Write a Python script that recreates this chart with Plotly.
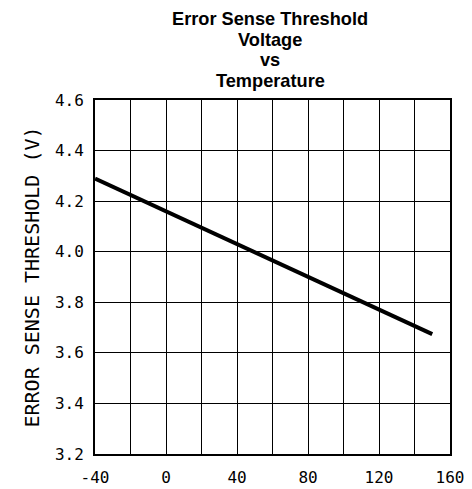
import plotly.graph_objects as go

temperature = [-40, 0, 50, 100, 150]
threshold_v = [4.289, 4.160, 3.998, 3.836, 3.674]

x_ticks = [-40, 0, 40, 80, 120, 160]
y_ticks = [3.2, 3.4, 3.6, 3.8, 4.0, 4.2, 4.4, 4.6]
title_lines = ["Error Sense Threshold", "Voltage", "vs", "Temperature"]

L, R, T, B = 95, 450, 100, 454
W, H = 472, 489

fig = go.Figure()
fig.add_trace(go.Scatter(x=temperature, y=threshold_v, mode="lines",
                         line=dict(color="black", width=4), showlegend=False))

title_centers_px = [19, 39.6, 60.2, 80.8]
for txt, ypx in zip(title_lines, title_centers_px):
    fig.add_annotation(text=f"<b>{txt}</b>", xref="paper", yref="paper",
                       x=(270 - L) / (R - L), y=(B - ypx) / (B - T),
                       xanchor="center", yanchor="middle", showarrow=False,
                       borderpad=0,
                       font=dict(family="Liberation Sans, Arial", size=18.2, color="black"))

fig.update_layout(
    width=W, height=H,
    margin=dict(l=L, r=W - R, t=T, b=H - B),
    paper_bgcolor="white", plot_bgcolor="white",
    font=dict(family="DejaVu Sans Mono", color="black"),
)
grid = dict(showgrid=True, gridcolor="black", gridwidth=1.3)
fig.update_xaxes(range=[-40, 160], tickmode="array", tickvals=x_ticks,
                 ticktext=[str(v) for v in x_ticks], automargin=False,
                 showline=True, linecolor="black", linewidth=2, mirror=True,
                 ticks="", zeroline=False,
                 tickfont=dict(family="DejaVu Sans Mono", size=16, color="black"),
                 ticklabelstandoff=8,
                 minor=dict(tickvals=list(range(-40, 161, 20)), **grid), **grid)
fig.update_yaxes(range=[3.2, 4.6], tickmode="array", tickvals=y_ticks,
                 ticktext=[f"{v:.1f}" for v in y_ticks], automargin=False,
                 showline=True, linecolor="black", linewidth=2, mirror=True,
                 ticks="", zeroline=False,
                 tickfont=dict(family="DejaVu Sans Mono", size=16, color="black"),
                 ticklabelstandoff=6,
                 title=dict(text="ERROR SENSE THRESHOLD (V)",
                            font=dict(family="DejaVu Sans Mono", size=20, color="black"),
                            standoff=10), **grid)

fig.write_html("out.html", post_script="document.body.style.margin='0';",
               config={"displayModeBar": False})
